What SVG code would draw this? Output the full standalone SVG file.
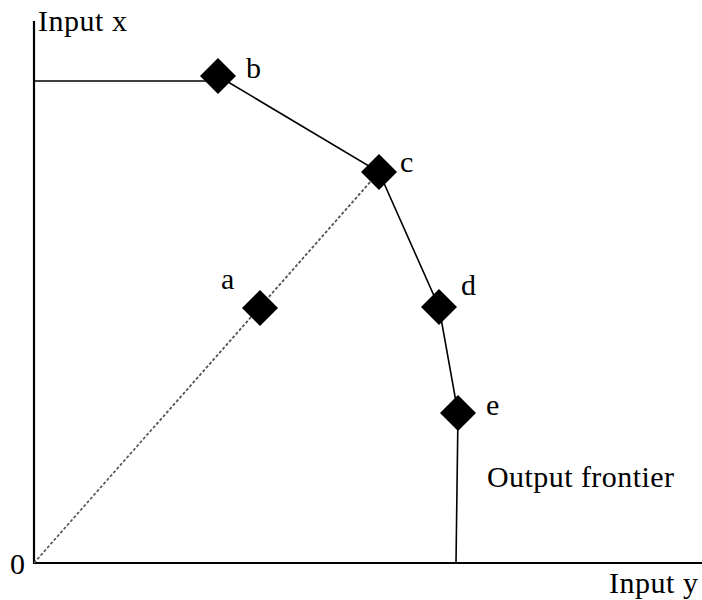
<svg xmlns="http://www.w3.org/2000/svg" width="702" height="600" viewBox="0 0 702 600">
<style>
text{font-family:"Liberation Serif","DejaVu Serif",serif;font-size:30px;fill:#000}
.ln{stroke:#000;stroke-width:1.6;fill:none}
.ax{stroke:#000;stroke-width:2.2;fill:none}
.ds{stroke:#555;stroke-width:1.8;stroke-dasharray:3 2;fill:none}
</style>
<defs>
<path id="dm" d="M0,-18 L18,0 L0,18 L-18,0 Z" fill="#000"/>
</defs>
<g id="axes">
<path class="ax" d="M34,21 V563 H702"/>
<text x="38" y="31" textLength="89">Input x</text>
<text x="609" y="593" textLength="89">Input y</text>
<text x="10" y="574">0</text>
</g>
<g id="connectors">
<path class="ln" d="M34,81 H212"/>
<path class="ln" d="M218,76 L379,172 L439,307 L458,413 L456,563"/>
<path class="ds" d="M34,563 L379,172"/>
</g>
<g id="node-b"><use href="#dm" x="218" y="76"/><text x="246" y="78">b</text></g>
<g id="node-c"><use href="#dm" x="379" y="172"/><text x="400" y="172">c</text></g>
<g id="node-a"><use href="#dm" x="260" y="308"/><text x="221" y="289">a</text></g>
<g id="node-d"><use href="#dm" x="439" y="307"/><text x="461" y="295">d</text></g>
<g id="node-e"><use href="#dm" x="458" y="413"/><text x="486" y="415">e</text></g>
<g id="label"><text x="487" y="487" textLength="187">Output frontier</text></g>
</svg>
